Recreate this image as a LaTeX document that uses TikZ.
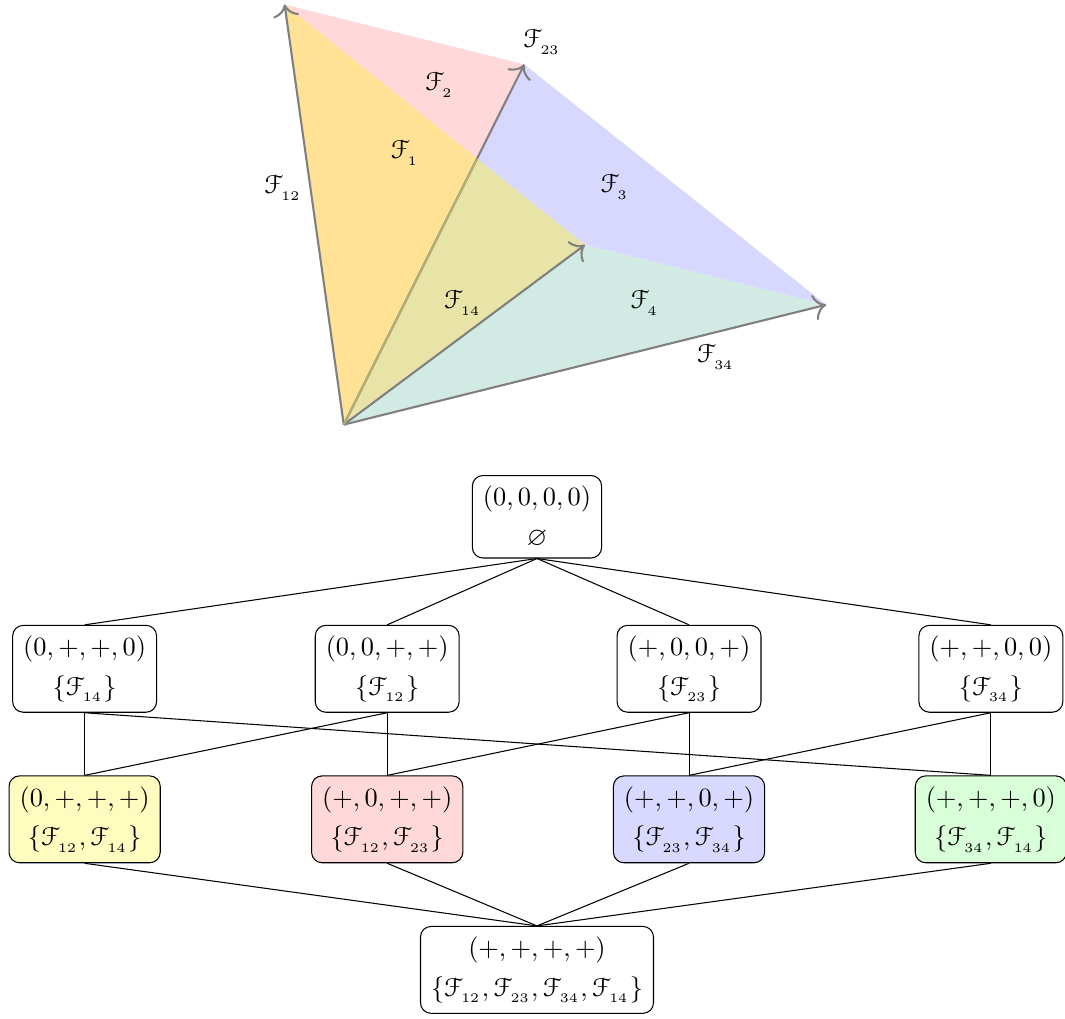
\documentclass[tikz,border=0pt]{standalone}
\usepackage{amsmath,amssymb}
\usepackage{eucal}
\usetikzlibrary{arrows.meta}

\definecolor{faceone}{RGB}{255,226,150}
\definecolor{faceboth}{RGB}{232,228,168}
\definecolor{facetwo}{RGB}{255,217,218}
\definecolor{facethree}{RGB}{216,216,255}
\definecolor{facefour}{RGB}{210,234,228}
\definecolor{hiddenray}{RGB}{178,176,112}

\newcommand{\Fc}[1]{\mathcal{F}_{_{#1}}}

\tikzset{
  ray/.style={
    -{To[scale=1.4]},
    thick,
    gray
  },
  cell/.style={
    draw,
    rounded corners,
    align=center,
    inner sep=4pt
  }
}

\begin{document}
\begin{tikzpicture}
  \clip (0,0) rectangle (14.22,13.6);
  \useasboundingbox (0,0) rectangle (14.22,13.6);

  \coordinate (O) at (4.59,7.93);
  \coordinate (A) at (3.80,13.54);
  \coordinate (B) at (7.00,12.74);
  \coordinate (C) at (7.81,10.33);
  \coordinate (D) at (11.03,9.53);
  \coordinate (P) at (intersection of A--C and O--B);

  \fill[facetwo] (A) -- (B) -- (P) -- cycle;
  \fill[faceone] (O) -- (A) -- (P) -- cycle;
  \fill[faceboth] (O) -- (P) -- (C) -- cycle;
  \fill[facethree] (P) -- (B) -- (D) -- (C) -- cycle;
  \fill[facefour] (O) -- (C) -- (D) -- cycle;

  \draw[ray] (O) -- (A);
  \draw[ray] (O) -- (B);
  \draw[ray] (O) -- (C);
  \draw[ray] (O) -- (D);
  \draw[thick, hiddenray] (O) -- (P);

  \node at (3.78,11.09) {$\Fc{12}$};
  \node at (7.24,13.04) {$\Fc{23}$};
  \node at (6.18,9.56) {$\Fc{14}$};
  \node at (9.56,8.84) {$\Fc{34}$};
  \node at (5.41,11.56) {$\Fc{1}$};
  \node at (5.87,12.47) {$\Fc{2}$};
  \node at (8.21,11.11) {$\Fc{3}$};
  \node at (8.61,9.56) {$\Fc{4}$};

  % face lattice
  \node[cell] (z) at (7.17,6.70) {$(0,0,0,0)$\\[3pt]$\varnothing$};

  \node[cell] (e14) at (1.13,4.67) {$(0,+,+,0)$\\[3pt]$\{\Fc{14}\}$};
  \node[cell] (e12) at (5.17,4.67) {$(0,0,+,+)$\\[3pt]$\{\Fc{12}\}$};
  \node[cell] (e23) at (9.20,4.67) {$(+,0,0,+)$\\[3pt]$\{\Fc{23}\}$};
  \node[cell] (e34) at (13.23,4.67) {$(+,+,0,0)$\\[3pt]$\{\Fc{34}\}$};

  \node[cell, fill=yellow!25] (f1) at (1.13,2.66) {$(0,+,+,+)$\\[3pt]$\{\Fc{12},\Fc{14}\}$};
  \node[cell, fill=red!15] (f2) at (5.17,2.66) {$(+,0,+,+)$\\[3pt]$\{\Fc{12},\Fc{23}\}$};
  \node[cell, fill=blue!15] (f3) at (9.20,2.66) {$(+,+,0,+)$\\[3pt]$\{\Fc{23},\Fc{34}\}$};
  \node[cell, fill=green!15] (f4) at (13.23,2.66) {$(+,+,+,0)$\\[3pt]$\{\Fc{34},\Fc{14}\}$};

  \node[cell] (t) at (7.17,0.65) {$(+,+,+,+)$\\[3pt]$\{\Fc{12},\Fc{23},\Fc{34},\Fc{14}\}$};

  \foreach \e in {e14,e12,e23,e34}
    \draw (z.south) -- (\e.north);

  \draw (e14.south) -- (f1.north);
  \draw (e14.south) -- (f4.north);
  \draw (e12.south) -- (f1.north);
  \draw (e12.south) -- (f2.north);
  \draw (e23.south) -- (f2.north);
  \draw (e23.south) -- (f3.north);
  \draw (e34.south) -- (f3.north);
  \draw (e34.south) -- (f4.north);

  \foreach \f in {f1,f2,f3,f4}
    \draw (\f.south) -- (t.north);
\end{tikzpicture}
\end{document}
